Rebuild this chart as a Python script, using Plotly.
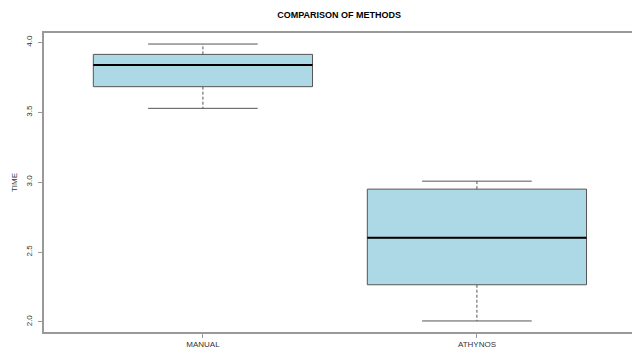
import plotly.graph_objects as go

# Summary statistics of TIME for each method
methods = ["MANUAL", "ATHYNOS"]
lower_whisker = [3.528, 2.007]
q1 = [3.683, 2.266]
median = [3.838, 2.602]
q3 = [3.914, 2.950]
upper_whisker = [3.988, 3.007]
y_ticks = [2.0, 2.5, 3.0, 3.5, 4.0]

BOX_HALF = 0.4
CAP_HALF = 0.2
EDGE = "#555555"
FONT = "Liberation Sans, Arial, sans-serif"

fig = go.Figure()

for i, name in enumerate(methods):
    # dashed whiskers from the hinges out to the extremes
    fig.add_trace(go.Scatter(
        x=[i, i, None, i, i],
        y=[q3[i], upper_whisker[i], None, q1[i], lower_whisker[i]],
        mode="lines", line=dict(color=EDGE, width=1, dash="3px,2px"),
        showlegend=False, hoverinfo="skip"))
    # whisker caps
    fig.add_trace(go.Scatter(
        x=[i - CAP_HALF, i + CAP_HALF, None, i - CAP_HALF, i + CAP_HALF],
        y=[upper_whisker[i], upper_whisker[i], None, lower_whisker[i], lower_whisker[i]],
        mode="lines", line=dict(color=EDGE, width=1),
        showlegend=False, hoverinfo="skip"))
    # the box itself
    fig.add_trace(go.Box(
        x=[i], q1=[q1[i]], median=[median[i]], q3=[q3[i]],
        lowerfence=[q1[i]], upperfence=[q3[i]], whiskerwidth=0,
        width=2 * BOX_HALF, fillcolor="#ADD8E6",
        line=dict(color=EDGE, width=1), name=name,
        showlegend=False, hoverinfo="skip"))
    # bold median bar
    fig.add_shape(type="line", xref="x", yref="y",
                  x0=i - BOX_HALF, x1=i + BOX_HALF, y0=median[i], y1=median[i],
                  line=dict(color="black", width=2), layer="above")

fig.update_layout(
    width=632, height=354,
    margin=dict(l=44, r=0, t=33, b=22),
    paper_bgcolor="white", plot_bgcolor="white",
    font=dict(family=FONT, size=8, color="#333333"),
    title=dict(text="<b>COMPARISON OF METHODS</b>", x=0.5366, xanchor="center",
               y=1 - 15 / 354, yanchor="middle", yref="container",
               font=dict(family=FONT, size=9, color="black")),
    showlegend=False,
)

fig.update_xaxes(
    range=[-0.58, 1.566], tickmode="array", tickvals=list(range(len(methods))),
    ticktext=methods, showgrid=False, zeroline=False,
    showline=True, linecolor="#999999", linewidth=1.5, mirror=True,
    ticks="outside", ticklen=4, tickcolor="#999999", tickfont=dict(size=8))

fig.update_yaxes(
    range=[1.928, 4.067], tickmode="array", tickvals=y_ticks,
    ticktext=[f"{v:.1f}" for v in y_ticks], tickangle=-90,
    showgrid=False, zeroline=False,
    showline=True, linecolor="#999999", linewidth=1.5,
    ticks="outside", ticklen=4, tickcolor="#999999", tickfont=dict(size=8),
    ticklabelstandoff=3,
    title=dict(text="TIME", standoff=6, font=dict(size=8)))

fig.write_html("out.html")
